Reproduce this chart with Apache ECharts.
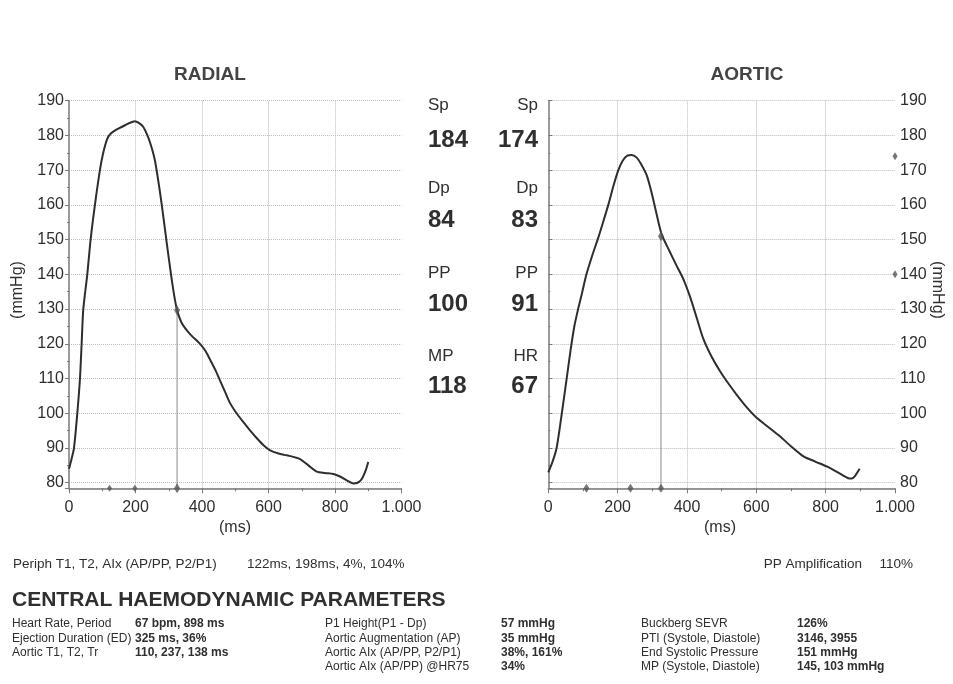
<!DOCTYPE html>
<html><head><meta charset="utf-8">
<script src="https://cdn.jsdelivr.net/npm/echarts@6/dist/echarts.min.js"></script>
<style>html,body{margin:0;padding:0;background:#fff}#c{width:953px;height:684px}</style>
</head><body><div id="c"></div>
<script>
// ---- data ----
const radialTime = [0,8,15,25,33,38,43,55,65,78,93,103,115,125,140,160,180,198,210,223,238,250,259,270,279,294,309,318,325,339,364,394,410,424,440,454,470,484,504,524,545,565,585,605,630,655,680,695,720,745,770,795,815,835,855,868,880,892,900];
const radialPressure = [84,87,90,100,110,120,130,140,150,160,170,175,179,180.5,181.5,182.5,183.5,184.1,183.6,182.5,179.5,176,172.5,166,160,149,138.5,133,129.7,126,122.8,120,118,115.5,112.5,109.5,106,103,100,97.5,95,92.8,90.8,89.3,88.4,87.9,87.3,86.8,85,83.2,82.8,82.5,81.8,80.7,79.8,80,81,83.5,86];
const aorticTime = [0,12,24,39,53,64,75,86,97,110,127,144,158,173,188,202,215,228,240,255,269,284,298,312,327,348,370,390,409,428,447,470,495,520,543,570,601,635,668,700,736,770,803,835,865,875,885,898];
const aorticPressure = [83,86,90,100,110,118,125,130,134.5,140,145.5,150.5,155,160,165.5,170,172.8,174.2,174.4,173.6,171.5,168.5,163.5,157.5,151.5,147,142.5,138.5,133.5,127.5,121.5,116.5,112.2,108.5,105.4,102,98.7,96,93.4,90.5,87.6,86.1,84.7,83,81.3,81.2,82,84];
const radialMarkTimes = [122, 198];
const aorticMarkTimes = [110, 237];
const edTime = 325;
const radialEdPressure = 129.7;
const aorticEsp = 151;
const aorticAxisMarks = [174, 140];
const radialStatLabels = ['Sp','Dp','PP','MP'];
const radialStatValues = ['184','84','100','118'];
const aorticStatLabels = ['Sp','Dp','PP','HR'];
const aorticStatValues = ['174','83','91','67'];
const col1Labels = ['Heart Rate, Period','Ejection Duration (ED)','Aortic T1, T2, Tr'];
const col1Values = ['67 bpm, 898 ms','325 ms, 36%','110, 237, 138 ms'];
const col2Labels = ['P1 Height(P1 - Dp)','Aortic Augmentation (AP)','Aortic AIx (AP/PP, P2/P1)','Aortic AIx (AP/PP) @HR75'];
const col2Values = ['57 mmHg','35 mmHg','38%, 161%','34%'];
const col3Labels = ['Buckberg SEVR','PTI (Systole, Diastole)','End Systolic Pressure','MP (Systole, Diastole)'];
const col3Values = ['126%','3146, 3955','151 mmHg','145, 103 mmHg'];
const periphLabel = 'Periph T1, T2, AIx (AP/PP, P2/P1)';
const periphValue = '122ms, 198ms, 4%, 104%';
const ampLabel = 'PP Amplification';
const ampValue = '110%';

// ---- chart ----
const FONT = 'Liberation Sans, Arial, Helvetica, sans-serif';
const TXT = '#2f2f2f';
const AX = '#7a7a7a';
const yMin = 78.4, yMax = 190;
const zip = (a, b) => a.map((v, i) => [v, b[i]]);
const fmtX = v => String(v).replace(/\B(?=(\d{3})+(?!\d))/g, '.');

function xAxisCfg(gi) {
  return {
    type: 'value', gridIndex: gi, min: 0, max: 1000, interval: 200,
    axisLine: {show: true, onZero: false, lineStyle: {color: AX, width: 1.5}},
    axisTick: {show: true, length: 5, lineStyle: {color: AX}},
    minorTick: {show: true, splitNumber: 2, length: 3, lineStyle: {color: AX}},
    axisLabel: {fontSize: 16, color: TXT, fontFamily: FONT, margin: 11, formatter: fmtX},
    splitLine: {show: true, showMinLine: false, showMaxLine: false, lineStyle: {type: 'dotted', color: '#bdbdbd', width: 1}}
  };
}
function yAxisCfg(gi, pos) {
  return {
    type: 'value', gridIndex: gi, position: pos, min: yMin, max: yMax, splitNumber: 11,
    axisLine: {show: true, lineStyle: {color: AX, width: 1.5}},
    axisTick: {show: true, length: 4, lineStyle: {color: AX}},
    minorTick: {show: true, splitNumber: 2, length: 2, lineStyle: {color: AX}},
    axisLabel: {fontSize: 16, color: TXT, fontFamily: FONT, margin: 5, showMinLabel: false},
    splitLine: {show: true, lineStyle: {type: 'dotted', color: '#bdbdbd', width: 1}}
  };
}
const curveStyle = {color: '#2e2e2e', width: 2};
const markColor = '#555';

const series = [
  {type: 'line', xAxisIndex: 0, yAxisIndex: 0, data: zip(radialTime, radialPressure), showSymbol: false, smooth: 0.25, lineStyle: curveStyle, z: 5},
  {type: 'line', xAxisIndex: 0, yAxisIndex: 0, data: [[edTime, yMin], [edTime, radialEdPressure]], showSymbol: false, lineStyle: {color: '#888', width: 1}, z: 3},
  {type: 'scatter', xAxisIndex: 0, yAxisIndex: 0, clip: false, symbol: 'diamond', symbolSize: [5, 7], itemStyle: {color: markColor}, data: radialMarkTimes.map(t => [t, yMin]), z: 6},
  {type: 'scatter', xAxisIndex: 0, yAxisIndex: 0, clip: false, symbol: 'diamond', symbolSize: [6, 10], itemStyle: {color: markColor}, data: [[edTime, yMin], [edTime, radialEdPressure]], z: 6},
  {type: 'line', xAxisIndex: 1, yAxisIndex: 1, data: zip(aorticTime, aorticPressure), showSymbol: false, smooth: 0.25, lineStyle: curveStyle, z: 5},
  {type: 'line', xAxisIndex: 1, yAxisIndex: 1, data: [[edTime, yMin], [edTime, aorticEsp]], showSymbol: false, lineStyle: {color: '#888', width: 1}, z: 3},
  {type: 'scatter', xAxisIndex: 1, yAxisIndex: 1, clip: false, symbol: 'diamond', symbolSize: [6, 9], itemStyle: {color: markColor}, data: aorticMarkTimes.concat([edTime]).map(t => [t, yMin]), z: 6},
  {type: 'scatter', xAxisIndex: 1, yAxisIndex: 1, clip: false, symbol: 'diamond', symbolSize: [6, 10], itemStyle: {color: markColor}, data: [[edTime, aorticEsp]], z: 6},
  {type: 'scatter', xAxisIndex: 1, yAxisIndex: 1, clip: false, symbol: 'diamond', symbolSize: [5, 8], itemStyle: {color: markColor}, data: aorticAxisMarks.map(p => [1000, p]), z: 6}
];

function t(x, y, text, o) {
  o = o || {};
  return {type: 'text', x: x, y: y, rotation: o.rot || 0, z: 10,
    style: {text: text, fontSize: o.size || 12, fontWeight: o.bold ? 'bold' : 'normal', fontFamily: FONT,
      fill: o.color || TXT, align: o.align || 'left', verticalAlign: 'middle'}};
}
const g = [];
g.push(t(210, 75, 'RADIAL', {size: 19, bold: true, align: 'center', color: '#444'}));
g.push(t(747, 75, 'AORTIC', {size: 19, bold: true, align: 'center', color: '#444'}));
g.push(t(18, 290, '(mmHg)', {size: 16, align: 'center', rot: Math.PI / 2}));
g.push(t(937, 290, '(mmHg)', {size: 16, align: 'center', rot: -Math.PI / 2}));
g.push(t(235, 528, '(ms)', {size: 16, align: 'center'}));
g.push(t(720, 528, '(ms)', {size: 16, align: 'center'}));
const labYs = [105, 188, 273, 356], valYs = [140, 220.5, 304.5, 386.5];
radialStatLabels.forEach((s, i) => {
  g.push(t(428, labYs[i], s, {size: 17}));
  g.push(t(428, valYs[i], radialStatValues[i], {size: 24, bold: true}));
  g.push(t(538, labYs[i], aorticStatLabels[i], {size: 17, align: 'right'}));
  g.push(t(538, valYs[i], aorticStatValues[i], {size: 24, bold: true, align: 'right'}));
});
g.push(t(13, 564, periphLabel, {size: 13.5}));
g.push(t(247, 564, periphValue, {size: 13.5}));
g.push(t(862, 564, ampLabel, {size: 13.5, align: 'right'}));
g.push(t(913, 564, ampValue, {size: 13.5, align: 'right'}));
g.push(t(12, 600, 'CENTRAL HAEMODYNAMIC PARAMETERS', {size: 21, bold: true}));
const rowYs = [624, 638.3, 652.6, 667];
col1Labels.forEach((s, i) => { g.push(t(12, rowYs[i], s)); g.push(t(135, rowYs[i], col1Values[i], {bold: true})); });
col2Labels.forEach((s, i) => { g.push(t(325, rowYs[i], s)); g.push(t(501, rowYs[i], col2Values[i], {bold: true})); });
col3Labels.forEach((s, i) => { g.push(t(641, rowYs[i], s)); g.push(t(797, rowYs[i], col3Values[i], {bold: true})); });

const chart = echarts.init(document.getElementById('c'), null, {renderer: 'canvas'});
chart.setOption({
  animation: false,
  backgroundColor: '#ffffff',
  grid: [
    {left: 69, top: 100.7, width: 332.5, height: 387.6, outerBoundsMode: 'none', containLabel: false},
    {left: 548.3, top: 100.7, width: 346.7, height: 387.6, outerBoundsMode: 'none', containLabel: false}
  ],
  xAxis: [xAxisCfg(0), xAxisCfg(1)],
  yAxis: [yAxisCfg(0, 'left'), yAxisCfg(1, 'right')],
  series: series,
  graphic: g
});
</script></body></html>
